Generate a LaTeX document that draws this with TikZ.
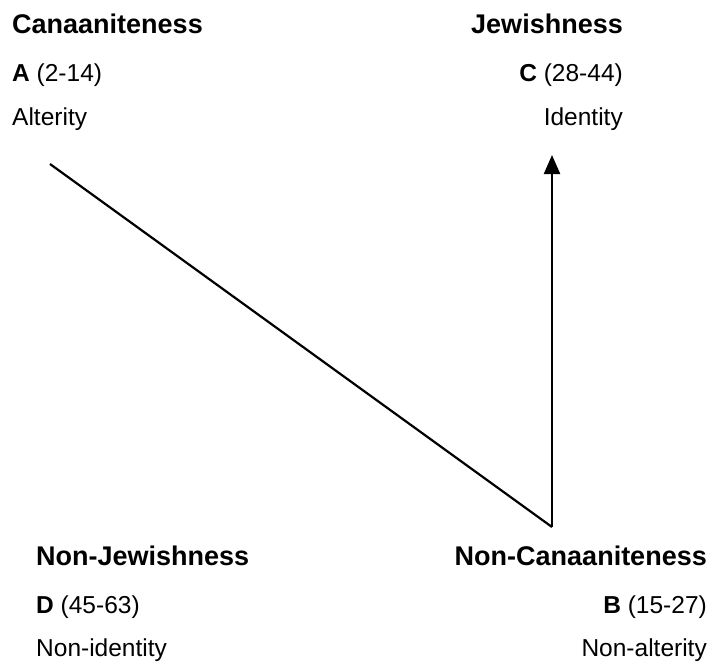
\documentclass[tikz,border=0pt]{standalone}
\usepackage{fontspec}
\setmainfont{Liberation Sans}
\usetikzlibrary{arrows.meta}
\begin{document}
\begin{tikzpicture}[x=1pt,y=-1pt,
  head/.style={inner sep=0pt,font=\fontsize{27}{32}\selectfont\bfseries},
  sub/.style={inner sep=0pt,font=\fontsize{24.5}{30}\selectfont},
  link/.style={line width=2.2pt},
  lw/.style={anchor=base west},
  le/.style={anchor=base east}]
\useasboundingbox (0,0) rectangle (712,665);
\fill[white] (0,0) rectangle (712,665);

% top-left corner: A
\node[head,lw] (canaan) at (12,33) {Canaaniteness};
\node[sub,lw] (aLabel) at (12,81) {\textbf{A} (2-14)};
\node[sub,lw] (alter) at (12,125) {Alterity};

% top-right corner: C
\node[head,le] (jew) at (623,33) {Jewishness};
\node[sub,le] (cLabel) at (623,81) {\textbf{C} (28-44)};
\node[sub,le] (ident) at (623,125) {Identity};

% bottom-left corner: D
\node[head,lw] (nonjew) at (36,565) {Non-Jewishness};
\node[sub,lw] (dLabel) at (36,613) {\textbf{D} (45-63)};
\node[sub,lw] (nonident) at (36,656) {Non-identity};

% bottom-right corner: B
\node[head,le] (noncanaan) at (707,565) {Non-Canaaniteness};
\node[sub,le] (bLabel) at (707,613) {\textbf{B} (15-27)};
\node[sub,le] (nonalter) at (707,656) {Non-alterity};

% path A -> B -> C
\coordinate (pA) at (50,164);
\coordinate (pB) at (552,527);
\coordinate (pC) at (552,155);
\draw[link] (pA) -- (pB);
\draw[link,-{Triangle[length=19pt,width=16pt]}] (pB) -- (pC);
\end{tikzpicture}
\end{document}
